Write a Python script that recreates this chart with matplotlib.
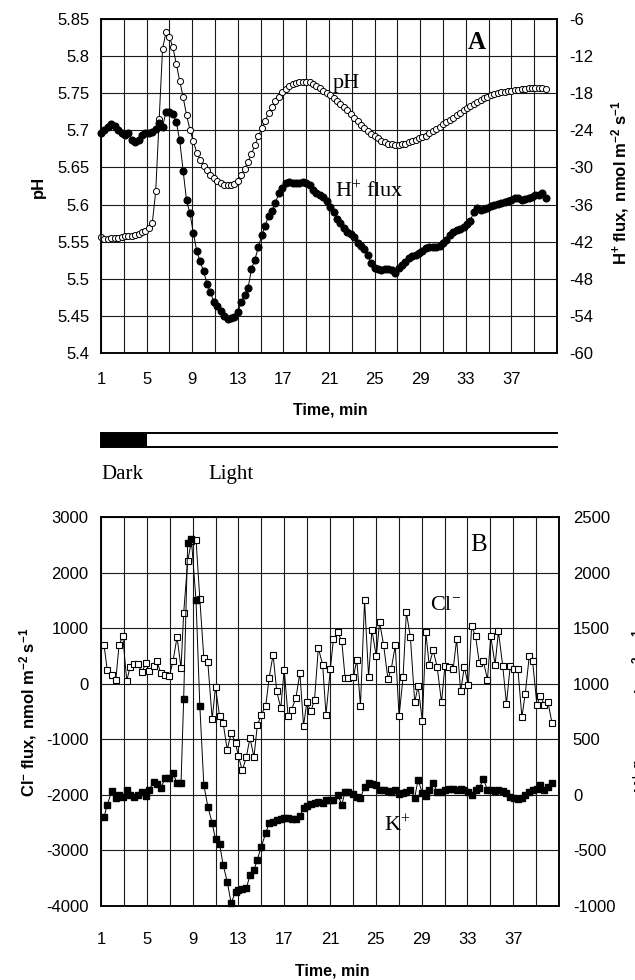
import matplotlib
matplotlib.use('Agg')
import matplotlib.pyplot as plt

plt.rcParams['font.family'] = ['Liberation Sans', 'DejaVu Sans']
plt.rcParams['mathtext.fontset'] = 'custom'
plt.rcParams['mathtext.rm'] = 'Liberation Serif'
plt.rcParams['mathtext.it'] = 'Liberation Serif:italic'
plt.rcParams['mathtext.bf'] = 'Liberation Sans:bold'
plt.rcParams['mathtext.sf'] = 'Liberation Sans'

# ---- panel A: pH and H+ flux (sampled every 0.3 min) ----
t_a = [1.0, 1.3, 1.6, 1.9, 2.2, 2.5, 2.8, 3.1, 3.4, 3.7,
       4.0, 4.3, 4.6, 4.9, 5.2, 5.5, 5.8, 6.1, 6.4, 6.7,
       7.0, 7.3, 7.6, 7.9, 8.2, 8.5, 8.8, 9.1, 9.4, 9.7,
       10.0, 10.3, 10.6, 10.9, 11.2, 11.5, 11.8, 12.1, 12.4, 12.7,
       13.0, 13.3, 13.6, 13.9, 14.2, 14.5, 14.8, 15.1, 15.4, 15.7,
       16.0, 16.3, 16.6, 16.9, 17.2, 17.5, 17.8, 18.1, 18.4, 18.7,
       19.0, 19.3, 19.6, 19.9, 20.2, 20.5, 20.8, 21.1, 21.4, 21.7,
       22.0, 22.3, 22.6, 22.9, 23.2, 23.5, 23.8, 24.1, 24.4, 24.7,
       25.0, 25.3, 25.6, 25.9, 26.2, 26.5, 26.8, 27.1, 27.4, 27.7,
       28.0, 28.3, 28.6, 28.9, 29.2, 29.5, 29.8, 30.1, 30.4, 30.7,
       31.0, 31.3, 31.6, 31.9, 32.2, 32.5, 32.8, 33.1, 33.4, 33.7,
       34.0, 34.3, 34.6, 34.9, 35.2, 35.5, 35.8, 36.1, 36.4, 36.7,
       37.0, 37.3, 37.6, 37.9, 38.2, 38.5, 38.8, 39.1, 39.4, 39.7,
       40.0]

ph = [5.556, 5.554, 5.554, 5.555, 5.555, 5.555, 5.556, 5.557, 5.557, 5.558,
      5.559, 5.561, 5.563, 5.565, 5.568, 5.575, 5.618, 5.715, 5.810, 5.832,
      5.826, 5.812, 5.790, 5.767, 5.745, 5.721, 5.701, 5.685, 5.670, 5.660,
      5.652, 5.646, 5.640, 5.636, 5.632, 5.629, 5.627, 5.626, 5.626, 5.628,
      5.632, 5.640, 5.648, 5.658, 5.668, 5.680, 5.692, 5.703, 5.713, 5.723,
      5.731, 5.739, 5.745, 5.751, 5.756, 5.760, 5.763, 5.764, 5.765, 5.765,
      5.765, 5.765, 5.763, 5.760, 5.757, 5.753, 5.750, 5.747, 5.744, 5.740,
      5.736, 5.731, 5.727, 5.722, 5.717, 5.712, 5.707, 5.703, 5.699, 5.695,
      5.692, 5.689, 5.686, 5.684, 5.682, 5.681, 5.680, 5.680, 5.681, 5.682,
      5.684, 5.685, 5.687, 5.689, 5.691, 5.693, 5.696, 5.699, 5.702, 5.705,
      5.708, 5.711, 5.714, 5.717, 5.720, 5.723, 5.727, 5.730, 5.733, 5.736,
      5.738, 5.741, 5.743, 5.745, 5.747, 5.749, 5.750, 5.751, 5.752, 5.753,
      5.753, 5.754, 5.755, 5.756, 5.756, 5.757, 5.757, 5.757, 5.757, 5.757,
      5.756]

h_flux = [-24.4, -23.9, -23.4, -22.9, -23.3, -24.0, -24.5, -24.7, -24.4, -25.6,
          -25.9, -25.6, -24.8, -24.4, -24.4, -24.2, -23.8, -22.8, -23.4, -21.0,
          -21.1, -21.4, -22.6, -25.6, -30.5, -35.3, -37.4, -40.6, -43.5, -45.2,
          -46.8, -48.8, -50.2, -51.7, -52.4, -53.2, -54.0, -54.5, -54.3, -54.1,
          -53.4, -51.8, -50.6, -49.5, -46.4, -44.9, -42.9, -41.0, -39.4, -37.8,
          -37.0, -35.7, -34.2, -33.3, -32.5, -32.4, -32.5, -32.5, -32.5, -32.4,
          -32.5, -32.9, -33.7, -34.2, -34.5, -34.8, -35.5, -36.4, -37.2, -38.3,
          -39.0, -39.8, -40.4, -40.8, -41.3, -42.2, -42.7, -43.2, -44.2, -45.5,
          -46.3, -46.5, -46.6, -46.5, -46.4, -46.6, -47.1, -46.3, -45.8, -45.3,
          -44.7, -44.3, -44.1, -43.9, -43.5, -43.1, -42.9, -42.8, -42.8, -42.7,
          -42.2, -41.8, -41.0, -40.4, -40.1, -39.9, -39.7, -39.2, -38.6, -37.2,
          -36.6, -36.9, -36.7, -36.5, -36.3, -36.1, -35.9, -35.7, -35.6, -35.4,
          -35.2, -34.9, -35.0, -35.3, -35.1, -34.9, -34.7, -34.5, -34.4, -34.2,
          -35.0]

# ---- panel B: Cl- and K+ flux ----
t_b = [1.26, 1.55, 1.94, 2.29, 2.58, 2.90, 3.25, 3.54, 3.84, 4.19,
       4.57, 4.92, 5.21, 5.59, 5.88, 6.23, 6.61, 6.96, 7.29, 7.64,
       7.99, 8.22, 8.57, 8.89, 9.30, 9.63, 9.98, 10.33, 10.71, 11.00,
       11.35, 11.67, 12.02, 12.37, 12.75, 12.99, 13.34, 13.69, 14.01, 14.36,
       14.65, 15.00, 15.39, 15.68, 16.03, 16.35, 16.70, 17.00, 17.34, 17.64,
       18.02, 18.37, 18.69, 18.98, 19.33, 19.65, 19.98, 20.36, 20.65, 21.03,
       21.30, 21.68, 22.03, 22.32, 22.61, 23.05, 23.34, 23.66, 24.02, 24.37,
       24.66, 25.04, 25.33, 25.68, 26.06, 26.35, 26.70, 27.03, 27.38, 27.67,
       28.02, 28.40, 28.69, 29.07, 29.37, 29.66, 30.01, 30.36, 30.74, 31.03,
       31.41, 31.76, 32.06, 32.41, 32.73, 33.08, 33.37, 33.72, 34.04, 34.40,
       34.75, 35.04, 35.42, 35.71, 36.09, 36.41, 36.74, 37.09, 37.41, 37.76,
       38.05, 38.40, 38.69, 39.07, 39.37, 39.72, 40.04, 40.39]

cl_flux = [702, 240, 162, 60, 702, 852, 54, 300, 360, 360,
           210, 372, 222, 324, 402, 192, 162, 132, 402, 840,
           282, 1272, 2202, 2562, 2592, 1524, 462, 384, -636, -60,
           -576, -708, -1188, -888, -1068, -1296, -1560, -1320, -978, -1320,
           -750, -558, -396, 102, 522, -138, -438, 252, -588, -468,
           -258, 192, -756, -330, -498, -288, 642, 342, -558, 264,
           804, 924, 762, 102, 102, 120, 432, -396, 1500, 120,
           972, 492, 1104, 702, 84, 264, 690, -588, 114, 1284,
           840, -336, -36, -678, 924, 342, 600, 300, -336, 312,
           300, 264, 804, -138, 300, -30, 1032, 852, 372, 402,
           72, 852, 342, 942, 312, -366, 324, 264, 264, -600,
           -186, 492, 414, -378, -228, -378, -336, -708]

k_flux = [-200, -90, 36, -30, 0, -15, 45, 0, -15, 0,
          30, -6, 45, 120, 96, 66, 150, 156, 195, 105,
          105, 865, 2266, 2302, 1750, 802, 90, -105, -255, -400,
          -440, -630, -780, -975, -870, -855, -845, -840, -725, -675,
          -585, -465, -345, -255, -240, -225, -216, -212, -210, -214,
          -220, -190, -120, -100, -85, -75, -68, -75, -45, -50,
          -45, 0, -90, 30, 30, 10, -15, -30, 75, 105,
          100, 90, 45, 45, 35, 30, 45, 10, 20, 30,
          45, -24, 135, 15, -6, 40, 105, 30, 30, 40,
          50, 50, 45, 55, 45, 25, 0, 45, 60, 144,
          45, 45, 36, 40, 35, 20, -15, -30, -40, -25,
          0, 25, 40, 55, 90, 45, 70, 105]

# axis ticks
time_grid = [1, 3, 5, 7, 9, 11, 13, 15, 17, 19, 21, 23, 25, 27, 29, 31, 33, 35, 37, 39, 41]
time_labelled = [1, 5, 9, 13, 17, 21, 25, 29, 33, 37]
ph_ticks = [5.4, 5.45, 5.5, 5.55, 5.6, 5.65, 5.7, 5.75, 5.8, 5.85]
ph_labels = ['5.4', '5.45', '5.5', '5.55', '5.6', '5.65', '5.7', '5.75', '5.8', '5.85']
h_ticks = [-60, -54, -48, -42, -36, -30, -24, -18, -12, -6]
h_labels = ['-60', '-54', '-48', '-42', '-36', '-30', '-24', '-18', '-12', '-6']
cl_ticks = [-4000, -3000, -2000, -1000, 0, 1000, 2000, 3000]
cl_labels = ['-4000', '-3000', '-2000', '-1000', '0', '1000', '2000', '3000']
k_ticks = [-1000, -500, 0, 500, 1000, 1500, 2000, 2500]
k_labels = ['-1000', '-500', '0', '500', '1000', '1500', '2000', '2500']
dark_end = 5  # light switched on at 5 min

W, H = 635, 980


def rect(left, top, right, bottom):
    return [left / W, 1 - bottom / H, (right - left) / W, (bottom - top) / H]


def fxy(x, y):
    return x / W, 1 - y / H


def setup_time_axis(ax, pad):
    ax.set_xlim(1, 41)
    ax.set_xticks(time_grid)
    ax.set_xticklabels([str(m) if m in time_labelled else '' for m in time_grid])
    ax.tick_params(axis='x', length=0, pad=pad, labelsize=12)
    ax.grid(True, color='#1a1a1a', lw=0.8)
    ax.set_axisbelow(True)
    for s in ax.spines.values():
        s.set_linewidth(1.1)


fig = plt.figure(figsize=(6.35, 9.8), dpi=100)
serif = ['Liberation Serif', 'DejaVu Serif']

# ---------------- panel A ----------------
axA = fig.add_axes(rect(101, 19, 557, 353))
setup_time_axis(axA, 14)
axA.set_ylim(5.4, 5.85)
axA.set_yticks(ph_ticks)
axA.set_yticklabels(ph_labels)
axA.tick_params(axis='y', length=0, pad=8, labelsize=12)
axA.plot(t_a, ph, '-o', color='black', lw=0.7, ms=4.4, mfc='white',
         mec='black', mew=0.7, clip_on=False, zorder=3)

axA2 = axA.twinx()
axA2.set_ylim(-60, -6)
axA2.set_yticks(h_ticks)
axA2.set_yticklabels(h_labels)
axA2.tick_params(axis='y', length=0, pad=9, labelsize=12)
for s in axA2.spines.values():
    s.set_linewidth(1.1)
axA2.plot(t_a, h_flux, '-o', color='black', lw=0.7, ms=4.8, mfc='black',
          mec='black', clip_on=False, zorder=3)

axA.text(34, 5.819, 'A', fontsize=18, fontweight='bold', family=serif,
         ha='center', va='center')
axA.text(21.35, 5.763, 'pH', fontsize=16, family=serif, ha='left', va='center')
axA.text(21.5, 5.617, r'H$^{+}$ flux', fontsize=16, family=serif,
         ha='left', va='center')

fig.text(*fxy(38, 187), 'pH', fontsize=12, fontweight='bold', rotation=90,
         ha='center', va='center')
fig.text(*fxy(620, 183), r'$\mathbf{H^{+}\ flux,\ nmol\ m^{-2}\ s^{-1}}$',
         fontsize=12, rotation=90, ha='center', va='center')
fig.text(*fxy(330, 410), 'Time, min', fontsize=11.5, fontweight='bold',
         ha='center', va='center')

# ---------------- dark / light bar ----------------
axBar = fig.add_axes(rect(101, 433, 557, 447))
axBar.set_xlim(1, 41)
axBar.set_ylim(0, 1)
axBar.axis('off')
axBar.fill_between([1, dark_end], 0, 1, color='black', lw=0)
axBar.plot([1, 41], [1, 1], color='black', lw=1.4, clip_on=False)
axBar.plot([1, 41], [0, 0], color='black', lw=1.4, clip_on=False)
axBar.plot([1, 1], [0, 1], color='black', lw=1.4, clip_on=False)
fig.text(*fxy(101, 474), 'Dark', fontsize=15, family=serif, ha='left', va='center')
fig.text(*fxy(208, 474), 'Light', fontsize=15, family=serif, ha='left', va='center')

# ---------------- panel B ----------------
axB = fig.add_axes(rect(101, 517, 559, 906))
setup_time_axis(axB, 19)
axB.set_ylim(-4000, 3000)
axB.set_yticks(cl_ticks)
axB.set_yticklabels(cl_labels)
axB.tick_params(axis='y', length=0, pad=9, labelsize=12)
axB.plot(t_b, cl_flux, '-s', color='black', lw=0.7, ms=5.0, mfc='white',
         mec='black', mew=0.8, clip_on=False, zorder=3)

axB2 = axB.twinx()
axB2.set_ylim(-1000, 2500)
axB2.set_yticks(k_ticks)
axB2.set_yticklabels(k_labels)
axB2.tick_params(axis='y', length=0, pad=10, labelsize=12)
for s in axB2.spines.values():
    s.set_linewidth(1.1)
axB2.plot(t_b, k_flux, '-s', color='black', lw=0.7, ms=5.0, mfc='black',
          mec='black', clip_on=False, zorder=3)

axB.text(34, 2500, 'B', fontsize=18, family=serif, ha='center', va='center')
axB.text(29.7, 1404, r'Cl$^{-}$', fontsize=16, family=serif, ha='left', va='center')
axB.text(25.7, -2556, r'K$^{+}$', fontsize=16, family=serif, ha='left', va='center')

fig.text(*fxy(28, 712), r'$\mathbf{Cl^{-}\ flux,\ nmol\ m^{-2}\ s^{-1}}$',
         fontsize=12, rotation=90, ha='center', va='center')
fig.text(*fxy(641, 711), r'$\mathbf{K^{+}\ flux,\ nmol\ m^{-2}\ s^{-1}}$',
         fontsize=12, rotation=90, ha='center', va='center')
fig.text(*fxy(332, 971), 'Time, min', fontsize=11.5, fontweight='bold',
         ha='center', va='center')

fig.savefig('out.png', dpi=100)
